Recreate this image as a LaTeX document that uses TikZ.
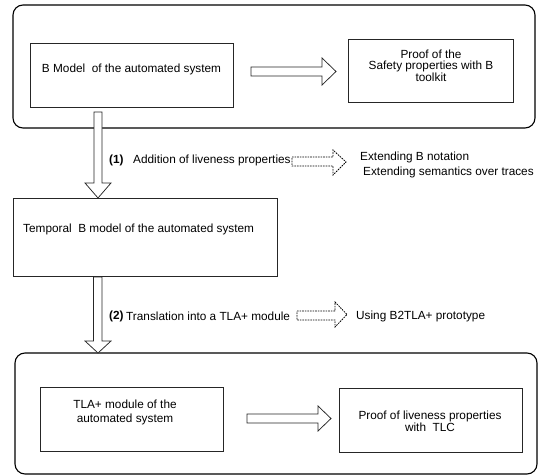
\documentclass[tikz,border=0pt]{standalone}
\usepackage{fontspec}
\setmainfont{Liberation Sans}
\begin{document}
\begin{tikzpicture}[x=1pt,y=-1pt,
  frame/.style={draw=black,line width=1.1pt,rounded corners=10pt,inner sep=0pt},
  box/.style={draw=black!85,line width=0.75pt,inner sep=0pt},
  txt/.style={inner sep=0pt,font=\fontsize{11.8}{13.5}\selectfont},
  blk/.style={draw=black!85,line width=0.75pt,fill=white},
  dsh/.style={draw=black,line width=0.8pt,dash pattern=on 1.6pt off 1pt,fill=white}]
\useasboundingbox (0,0) rectangle (543,476);
% frames
\node[frame,minimum width=522,minimum height=123] (topframe) at (274,66.5) {};
\node[frame,minimum width=522,minimum height=121] (botframe) at (276,413.5) {};
% boxes
\node[box,minimum width=203,minimum height=64] (bm) at (131.5,75) {};
\node[box,minimum width=165,minimum height=63] (pf) at (430.5,70.5) {};
\node[box,minimum width=264,minimum height=78] (tb) at (145,237) {};
\node[box,minimum width=183,minimum height=64] (tm) at (131.5,419) {};
\node[box,minimum width=183,minimum height=64] (pl) at (430.5,420) {};
% texts
\node[txt] (bmt) at (131.5,69) {B Model\ \ of the automated system};
\node[txt,align=center,font=\fontsize{11.8}{10.6}\selectfont] (pft) at (431,65.5) {Proof of the\\Safety properties with B\\toolkit};
\node[txt,anchor=west] (tbt) at (23,229) {Temporal\ \ B model of the automated system};
\node[txt,align=center,font=\fontsize{11.8}{14}\selectfont] (tmt) at (125,412) {TLA+ module of the\\automated system};
\node[txt,align=center,font=\fontsize{11.8}{11.5}\selectfont] (plt) at (430,421.5) {Proof of liveness properties\\with\ \ TLC};
\node[txt,anchor=west,font=\fontsize{11.8}{13.5}\selectfont\bfseries] (n1) at (109,160) {(1)};
\node[txt,anchor=west] (l1) at (133,160) {Addition of liveness properties};
\node[txt,anchor=west] (e1) at (360,157) {Extending B notation};
\node[txt,anchor=west] (e2) at (363,172) {Extending semantics over traces};
\node[txt,anchor=west,font=\fontsize{11.8}{13.5}\selectfont\bfseries] (n2) at (109,316) {(2)};
\node[txt,anchor=west] (l2) at (126,316) {Translation into a TLA+ module};
\node[txt,anchor=west] (u2) at (356,316) {Using B2TLA+ prototype};
% block arrows (horizontal)
\path[blk] (251,67) -- (322,67) -- (322,58) -- (336,71.5) -- (322,85) -- (322,76) -- (251,76) -- cycle;
\path[blk] (247,414) -- (318,414) -- (318,406) -- (331,418.5) -- (318,431) -- (318,423) -- (247,423) -- cycle;
% block arrows (vertical)
\path[blk] (94,112) -- (102,112) -- (102,183) -- (111,183) -- (98,198) -- (85,183) -- (94,183) -- cycle;
\path[blk] (93.5,277) -- (102,277) -- (102,341) -- (111,341) -- (98,353) -- (85,341) -- (93.5,341) -- cycle;
% dashed arrows
\path[dsh] (292,157) -- (333,157) -- (333,150) -- (346,162) -- (333,175) -- (333,166) -- (292,166) -- cycle;
\path[dsh] (297,311) -- (335,311) -- (335,302) -- (347,314.5) -- (335,327) -- (335,320) -- (297,320) -- cycle;
\end{tikzpicture}
\end{document}
